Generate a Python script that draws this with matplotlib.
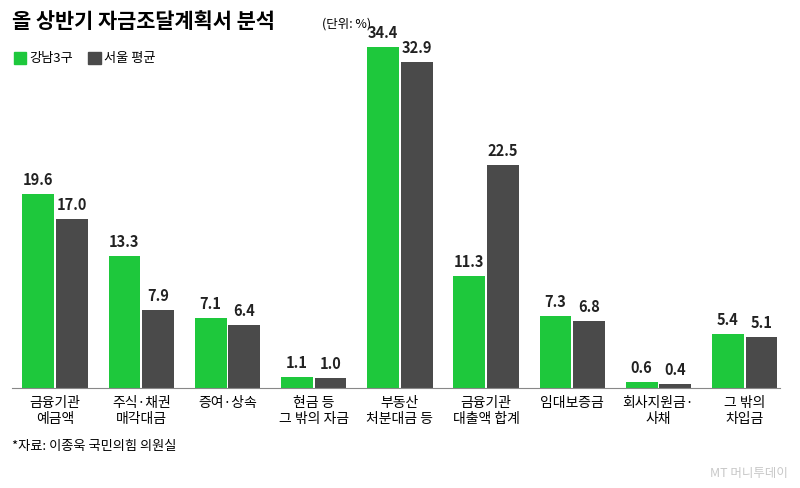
import numpy as np
import matplotlib.pyplot as plt

plt.rcParams['font.family'] = ['Noto Sans CJK KR', 'DejaVu Sans']

categories = ['금융기관\n예금액', '주식·채권\n매각대금', '증여·상속', '현금 등\n그 밖의 자금',
              '부동산\n처분대금 등', '금융기관\n대출액 합계', '임대보증금', '회사지원금·\n사채', '그 밖의\n차입금']
gangnam = [19.6, 13.3, 7.1, 1.1, 34.4, 11.3, 7.3, 0.6, 5.4]
seoul = [17.0, 7.9, 6.4, 1.0, 32.9, 22.5, 6.8, 0.4, 5.1]

green = '#1ec83c'
gray = '#4a4a4a'

fig = plt.figure(figsize=(8, 4.88), dpi=100)
ax = fig.add_axes([0.015, 0.205, 0.96, 0.713])
x = np.arange(len(categories))
w = 0.37
b1 = ax.bar(x - w / 2 - 0.01, gangnam, w, color=green)
b2 = ax.bar(x + w / 2 + 0.01, seoul, w, color=gray)
for bars, vals in ((b1, gangnam), (b2, seoul)):
    for r, v in zip(bars, vals):
        ax.text(r.get_x() + r.get_width() / 2, v + 0.6, f'{v:.1f}', ha='center', va='bottom',
                fontsize=10.5, fontweight='bold', color='#222222')
ax.set_xlim(-0.5, 8.41)
ax.set_ylim(0, 35.1)
ax.set_xticks(x)
ax.set_xticklabels(categories, fontsize=10, linespacing=1.2)
ax.tick_params(axis='x', length=0, pad=6)
ax.set_yticks([])
for s in ['top', 'right', 'left']:
    ax.spines[s].set_visible(False)
ax.spines['bottom'].set_color('#888888')

fig.text(0.015, 0.955, '올 상반기 자금조달계획서 분석', fontsize=15, fontweight='bold', va='center')
fig.text(0.402, 0.95, '(단위: %)', fontsize=9, va='center')
fig.patches.append(plt.Rectangle((0.017, 0.868), 0.016, 0.026, color=green, transform=fig.transFigure))
fig.text(0.037, 0.881, '강남3구', fontsize=9.5, va='center')
fig.patches.append(plt.Rectangle((0.11, 0.868), 0.016, 0.026, color=gray, transform=fig.transFigure))
fig.text(0.13, 0.881, '서울 평균', fontsize=9.5, va='center')
fig.text(0.015, 0.085, '*자료: 이종욱 국민의힘 의원실', fontsize=9.5, va='center')
fig.text(0.985, 0.03, 'MT 머니투데이', fontsize=9, color='#c8c8c8', ha='right', va='center')

fig.savefig('out.png', dpi=100)
